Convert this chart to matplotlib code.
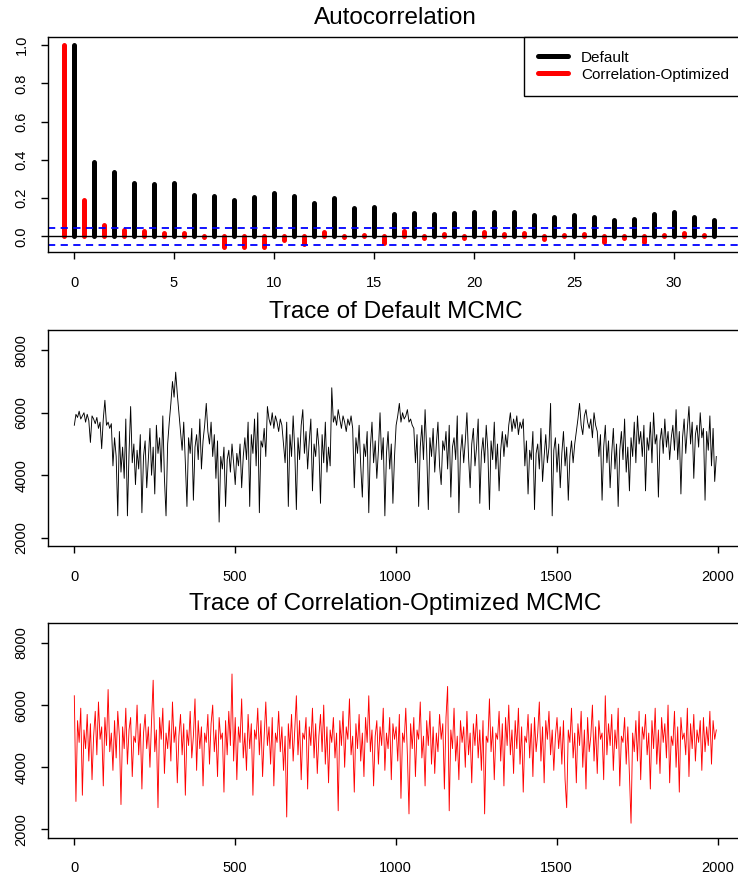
import numpy as np
import matplotlib
matplotlib.use("Agg")
import matplotlib.pyplot as plt

plt.rcParams["font.family"] = ["Liberation Sans", "DejaVu Sans"]

# autocorrelation, lags 0..32
LAGS = np.arange(0, 33)
ACF_DEFAULT = [1.0, 0.391, 0.335, 0.277, 0.272, 0.277, 0.218, 0.213, 0.192, 0.204,
               0.229, 0.213, 0.176, 0.199, 0.150, 0.155, 0.119, 0.122, 0.117, 0.122,
               0.127, 0.126, 0.126, 0.112, 0.099, 0.112, 0.099, 0.084, 0.091, 0.117,
               0.126, 0.103, 0.084]
ACF_OPT = [1.0, 0.190, 0.059, 0.033, 0.028, 0.017, 0.016, -0.005, -0.054, -0.054,
           -0.058, -0.019, -0.040, 0.021, -0.003, 0.005, -0.033, 0.030, -0.010, 0.010,
           -0.007, 0.021, 0.010, 0.016, -0.016, 0.007, 0.010, -0.031, -0.009, -0.028,
           0.007, 0.016, 0.007]
CI = 0.0438

# traces, read off roughly every 5 iterations
STEP = 5
TRACE_DEFAULT = [
    5600, 5950, 5850, 6050, 5800, 5900, 6000, 5700, 5950, 5750, 5050, 5900,
    5800, 5650, 5850, 5500, 5700, 4850, 5800, 6400, 5600, 5700, 5500, 5650,
    4300, 5200, 4600, 2700, 5400, 4100, 4900, 3900, 5800, 2700, 4700, 6200,
    4400, 5000, 3700, 4800, 4200, 5300, 2800, 4600, 5100, 3600, 4500, 5500,
    4000, 4900, 3400, 5600, 4700, 5200, 4100, 5900, 3900, 2700, 5000, 5700,
    6300, 7000, 6500, 7300, 6600, 6000,
    5400, 4800, 5700, 4400, 3000, 5200, 4700, 5500, 3200, 4900, 5300, 4500,
    5800, 4200, 5100, 5600, 6300, 5400, 5000, 5700, 4600, 5300, 3900, 5100,
    2500, 4600, 4200, 4900, 3000, 4500, 4800, 4100, 5000, 4400, 3700, 4700,
    4300, 5000, 3600, 4600,
    5200, 4500, 5700, 3000, 5300, 4700, 5800, 4300, 6000, 2800, 5100, 4900,
    5500, 4600,
    6200, 5800, 5600, 6000, 5500, 5900, 5700, 5400, 5800, 5600,
    5000, 4400, 5700, 3000, 5300, 4600, 5900, 4800, 2900, 5200, 4500, 5600,
    6100, 4700, 5400, 4200, 5100, 5800, 3500, 5000, 4600, 5500, 4900, 3100,
    5300, 4400, 5700, 4100, 4900, 4300,
    6800, 5700, 5900, 5600, 6100, 5800, 5500, 5900, 5700, 5400, 5800, 5600,
    5900, 5500,
    3600, 5200, 4700, 5600, 4300, 3300, 5000, 4600, 5400, 2800, 4900, 5700,
    4400, 5100, 3900, 4800, 6000, 4500, 5200, 2700, 4700, 5400, 4200, 5000,
    3100, 4600,
    5600, 5900, 6300, 5700, 6000, 5800, 5900, 6100, 5700, 5800, 5600, 5500,
    4400, 5300, 3000, 4900, 5600, 4500, 6100, 4800, 2900, 5200, 4600, 5500,
    4100, 5000, 5700, 4300, 3700, 5100,
    4800, 5400, 4200, 5600, 3300, 4900, 5200, 4500, 5900, 2800, 4700, 5300,
    4400, 5100, 6000, 4600, 3600, 5000, 5500, 4300, 4900, 5800, 3100, 4700,
    5200, 4400, 5600, 4800, 2900, 5100, 4500, 5700, 4200, 5000, 3500, 4800,
    5400, 4600, 5300, 4900,
    5600, 6000, 5400, 5800, 5500, 5900, 5300, 5700, 5500, 5800,
    4300, 5100, 3400, 4800, 4500, 5400, 2900, 4700, 5000, 4200, 5500, 3800,
    4600, 5300, 4400, 4900, 6300, 2700, 4800, 5200, 4100, 5000, 3600, 4700,
    5400, 4300, 4900, 3200, 4600, 5100, 4400, 5000,
    5400, 5800, 6300, 5600, 5300, 5900, 6100, 5700, 5500, 5800, 5200, 6000,
    5600, 5400,
    4600, 5300, 3200, 4900, 5600, 4400, 5100, 3600, 4700, 5500, 4200, 5000,
    3000, 4800, 5400, 4500, 5800, 4100, 4900, 3500, 5200, 4600, 5700, 4400,
    5900, 5000, 5400, 4600, 5600, 3500, 5200, 4800, 5700, 4400, 6000, 5000,
    5300, 3300, 5100, 5500, 4700, 5800, 4900, 5400, 4500, 5200,
    5600, 4800, 6100, 4500, 5400, 3400, 5200, 5800, 4700, 5500, 6200, 5000,
    5700, 3900, 5300, 5600, 4900, 6000, 5200, 5500, 3200, 5400, 4800, 5900,
    4300, 5500, 3800, 4600,
]

TRACE_OPT = [
    6300, 2900, 5500, 4800, 5900, 3100, 5200, 4600, 5700, 4200,
    5400, 3600, 5000, 5800, 4400, 6100, 4900, 5300, 3400, 5600,
    4700, 6500, 4500, 5100, 3900, 5500, 4300, 5800, 5000, 2800,
    5300, 4600, 5900, 4100, 5200, 5600, 3700, 5000, 4800, 6000,
    4400, 5400, 3300, 5100, 5700, 4600, 5300, 4000, 5500, 6800,
    4500, 5200, 2700, 5600, 4900, 5900, 3800, 5100, 4600, 5500,
    4200, 6100, 4800, 5300, 3500, 5000, 5700, 4400, 5400, 3100,
    5200, 4700, 5800, 4300, 5000, 6200, 3900, 5500, 4600, 5300,
    3400, 5100, 4800, 5700, 4100, 5400, 6000, 4500, 5200, 3700,
    5600, 4900, 5100, 3200, 5500, 4400, 5800, 4700, 7000, 4200,
    5600, 3600, 5300, 4800, 6200, 4300, 5100, 3900, 5700, 4600,
    5400, 3100, 5200, 4900, 5900, 4400, 5500, 3700, 5000, 6100,
    4700, 5300, 4100, 5600, 3400, 5100, 4800, 5800, 4500, 5300,
    3900, 5000, 2400, 5400, 4600, 5700, 4200, 5200, 6300, 4400,
    5500, 3600, 5100, 4900, 5600, 3300, 5300, 4700, 5900, 4300,
    5400, 3800, 5000, 5700, 4500, 6000, 4100, 5300, 3500, 5200,
    4800, 5600, 4300, 5100, 2600, 5500, 4700, 5800, 4000, 5300,
    4900, 6200, 4400, 5000, 3200, 5400, 4600, 5700, 4200, 5100,
    3700, 5600, 4800, 6300, 4500, 5200, 3400, 5000, 5500, 4100,
    5300, 4700, 5900, 3900, 5100, 4600, 5600, 3600, 5400, 4900,
    5300, 4200, 5700, 3000, 5100, 4800, 5900, 4400, 2500, 5400,
    4600, 5600, 3700, 5200, 4900, 6100, 4300, 5000, 3400, 5500,
    4700, 5800, 4100, 5300, 3800, 5100, 4500, 5700, 4900, 5400,
    3300, 5600, 6600, 2600, 5200, 4600, 5900, 4200, 5000, 3600,
    5500, 4800, 5300, 4000, 5800, 4400, 5100, 3500, 5400, 4700,
    5700, 4300, 5200, 3900, 5500, 2500, 5000, 4800, 6200, 4500,
    5300, 3600, 5100, 4900, 5800, 4200, 5400, 3400, 5600, 4700,
    6000, 4400, 5200, 3800, 5500, 4600, 5900, 4100, 5300, 3200,
    5000, 4800, 5700, 4300, 5400, 3700, 5600, 4500, 5100, 6100,
    4200, 5300, 3500, 5500, 4900, 5800, 4400, 5200, 3900, 5000,
    5600, 4600, 5300, 4100, 5500, 3600, 2700, 5200, 4800, 5900,
    4300, 5100, 3500, 5400, 4700, 5800, 4000, 5200, 3300, 5600,
    4500, 5000, 6000, 4200, 5300, 3800, 5500, 4900, 5100, 3600,
    6300, 4400, 5400, 4700, 5700, 3900, 5200, 4600, 5900, 3400,
    5000, 4800, 5600, 4100, 5300, 3700, 2200, 5100, 4500, 5500,
    4200, 5800, 3600, 5300, 4900, 5700, 4400, 5100, 3300, 5500,
    4600, 5900, 4100, 5200, 3800, 5600, 4800, 5400, 4300, 6000,
    3500, 5000, 4700, 5800, 4000, 5300, 3200, 5600, 4900, 5100,
    4400, 5900, 3700, 5400, 4600, 5700, 4200, 5200, 4800, 5500,
    3900, 5600, 4500, 5300, 4700, 5800, 4100, 5500, 4900, 5200,
]

TICK_FS = 10.5
TITLE_FS = 17.5


def style_axes(ax):
    for s in ax.spines.values():
        s.set_linewidth(1.0)
        s.set_color("black")
    ax.tick_params(direction="out", length=5, width=1.0, labelsize=TICK_FS)
    ax.tick_params(axis="x", pad=12)
    ax.tick_params(axis="y", pad=9)
    for lab in ax.get_yticklabels():
        lab.set_rotation(90)
        lab.set_va("center")


fig = plt.figure(figsize=(7.38, 8.77), dpi=100)
W = (743 - 48) / 738.0
ax1 = fig.add_axes([48 / 738.0, 1 - 252 / 877.0, W, 215 / 877.0])
ax2 = fig.add_axes([48 / 738.0, 1 - 546 / 877.0, W, 216 / 877.0])
ax3 = fig.add_axes([48 / 738.0, 1 - 837.7 / 877.0, W, 215 / 877.0])

# autocorrelation panel
ax1.vlines(LAGS, 0, ACF_DEFAULT, colors="black", linewidth=3.6, capstyle="round")
ax1.vlines(LAGS - 0.5, 0, ACF_OPT, colors="red", linewidth=3.6, capstyle="round")
ax1.axhline(0, color="black", linewidth=1.0)
ax1.axhline(CI, color="blue", linewidth=1.3, linestyle=(0, (4, 3)))
ax1.axhline(-CI, color="blue", linewidth=1.3, linestyle=(0, (4, 3)))
ax1.set_xlim(-1.3, 33.45)
ax1.set_ylim(-0.082, 1.043)
ax1.set_xticks(range(0, 31, 5))
ax1.set_yticks([0.0, 0.2, 0.4, 0.6, 0.8, 1.0])
ax1.set_yticklabels(["0.0", "0.2", "0.4", "0.6", "0.8", "1.0"])
ax1.set_title("Autocorrelation", fontsize=TITLE_FS, pad=9)
h1, = ax1.plot([], [], color="black", linewidth=3.6, solid_capstyle="round")
h2, = ax1.plot([], [], color="red", linewidth=3.6, solid_capstyle="round")
leg = ax1.legend([h1, h2], ["Default", "Correlation-Optimized"], loc="upper right",
                 fontsize=11, frameon=True, fancybox=False, framealpha=1,
                 edgecolor="black", borderaxespad=0, borderpad=0.9,
                 handlelength=2.0, handletextpad=0.85, labelspacing=0.2)
leg.get_frame().set_linewidth(1.0)
style_axes(ax1)

# traces
for ax, trace, col, title in [(ax2, TRACE_DEFAULT, "black", "Trace of Default MCMC"),
                              (ax3, TRACE_OPT, "red", "Trace of Correlation-Optimized MCMC")]:
    it = np.arange(len(trace)) * STEP + 1
    ax.plot(it, trace, color=col, linewidth=0.65)
    ax.set_xlim(-80.8, (743 - 74) / 0.3218)
    ax.set_ylim(1734, 8650)
    ax.set_xticks([0, 500, 1000, 1500, 2000])
    ax.set_yticks([2000, 4000, 6000, 8000])
    ax.set_title(title, fontsize=TITLE_FS, pad=9)
    style_axes(ax)

fig.savefig("out.png", dpi=100)
